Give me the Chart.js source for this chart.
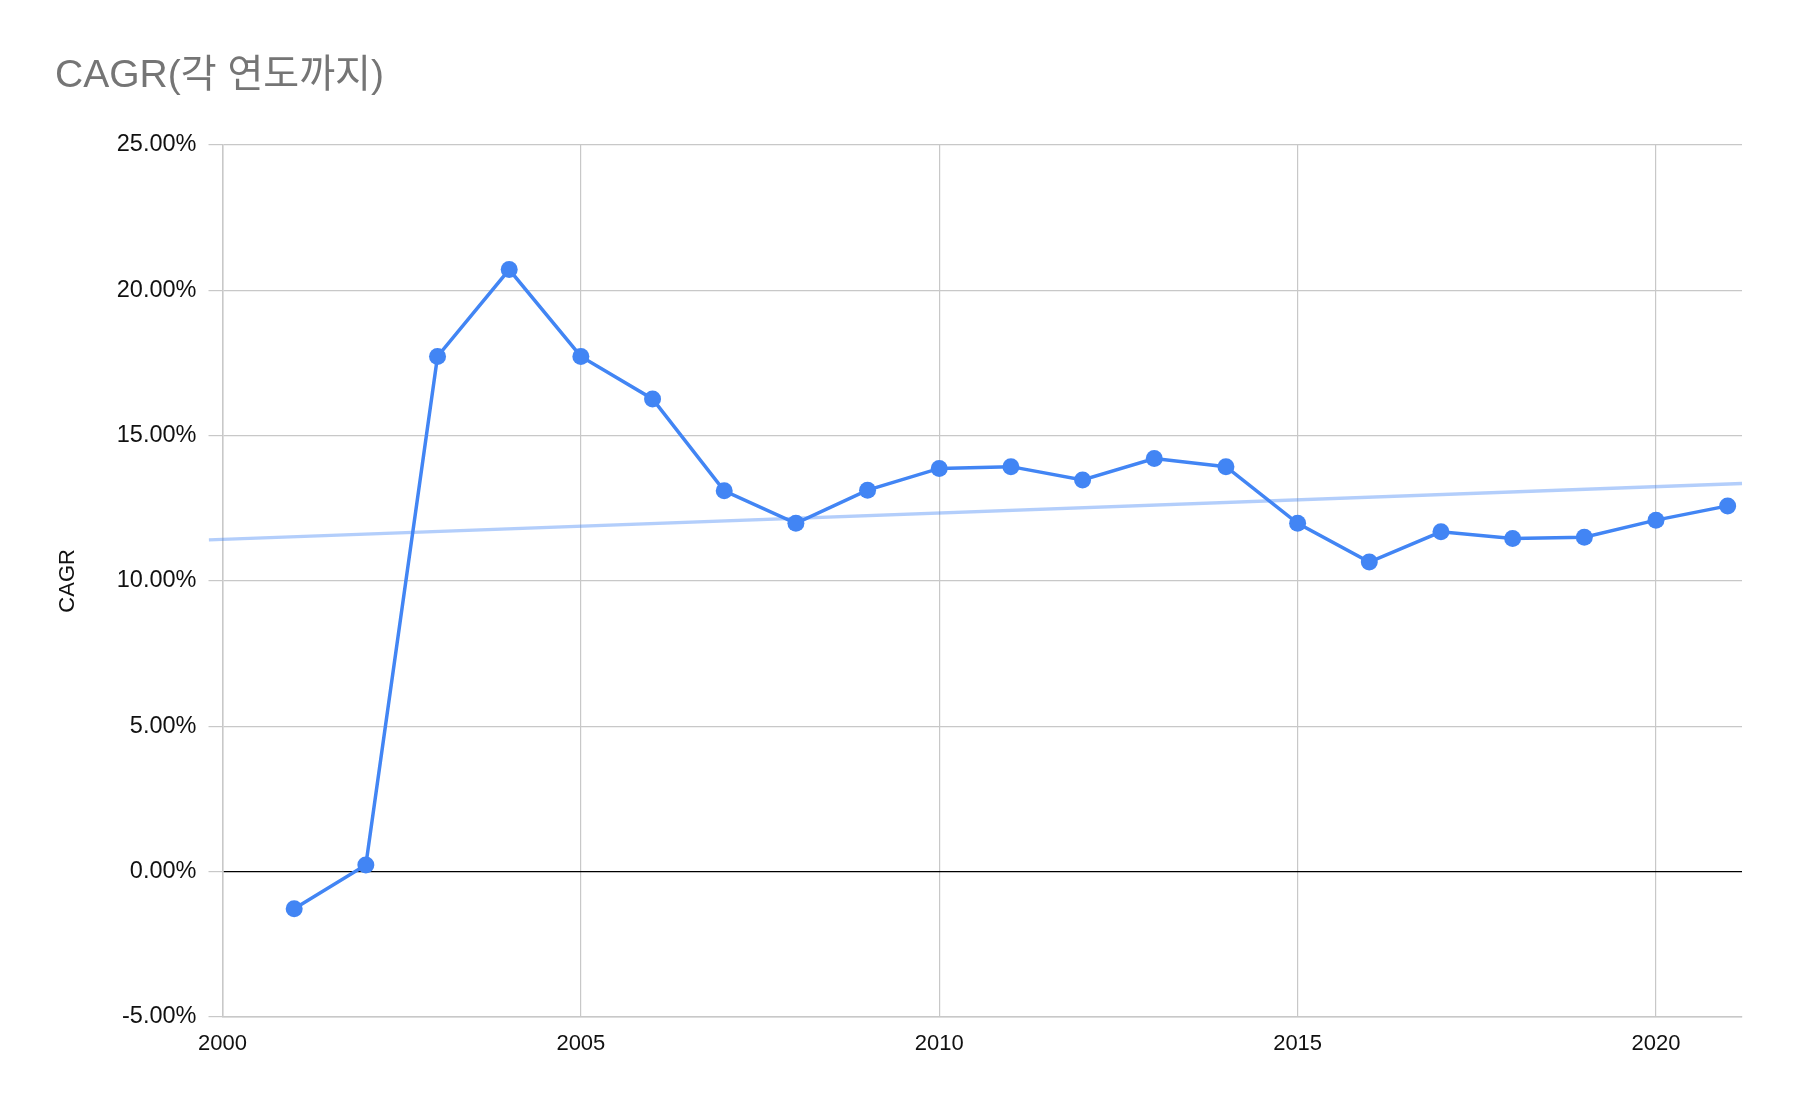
<!DOCTYPE html>
<html>
<head>
<meta charset="utf-8">
<title>CAGR</title>
<script src="https://cdn.jsdelivr.net/npm/chart.js@4/dist/chart.umd.min.js"></script>
<style>
    html, body { margin: 0; padding: 0; background: #fff; }
    #wrap { width: 1798px; height: 1110px; }
</style>
</head>
<body>
<div id="wrap"><canvas id="cagrChart" width="1798" height="1110"></canvas></div>
<script>
// Data
const years = [2001, 2002, 2003, 2004, 2005, 2006, 2007, 2008, 2009, 2010, 2011,
               2012, 2013, 2014, 2015, 2016, 2017, 2018, 2019, 2020, 2021];
const cagr = [-1.28, 0.23, 17.72, 20.71, 17.72, 16.26, 13.10, 11.98, 13.12, 13.87, 13.93,
              13.47, 14.21, 13.93, 11.98, 10.65, 11.69, 11.46, 11.50, 12.09, 12.58];
const yTicks = [-5, 0, 5, 10, 15, 20, 25];
const xTicks = [2000, 2005, 2010, 2015, 2020];
const xRange = [2000, 2021.2];

const FONT = "'Liberation Sans', Arial, 'Noto Sans CJK KR', sans-serif";

// linear trendline (least squares), drawn across the plot
function trendPoints(xs, ys, x0, x1) {
    const n = xs.length;
    const mx = xs.reduce((a, b) => a + b, 0) / n;
    const my = ys.reduce((a, b) => a + b, 0) / n;
    let sxy = 0, sxx = 0;
    for (let i = 0; i < n; i++) {
        sxy += (xs[i] - mx) * (ys[i] - my);
        sxx += (xs[i] - mx) * (xs[i] - mx);
    }
    const slope = sxy / sxx;
    return [x0, x1].map(x => ({ x: x, y: my + slope * (x - mx) }));
}

document.addEventListener('DOMContentLoaded', function() {
    const ctx = document.getElementById('cagrChart').getContext('2d');
    const points = years.map((y, i) => ({ x: y, y: cagr[i] }));

    new Chart(ctx, {
        type: 'line',
        data: {
            datasets: [{
                label: 'CAGR',
                data: points,
                borderColor: '#4285f4',
                backgroundColor: '#4285f4',
                borderWidth: 3.5,
                pointRadius: 8.5,
                pointHoverRadius: 8.5,
                pointBorderWidth: 0,
                tension: 0,
                order: 1
            }, {
                label: 'trend',
                data: trendPoints(years, cagr, xRange[0] - 0.19, xRange[1]),
                borderColor: 'rgba(66, 133, 244, 0.4)',
                borderWidth: 3.5,
                pointRadius: 0,
                clip: false,
                order: 2
            }]
        },
        options: {
            responsive: false,
            animation: false,
            layout: { padding: { left: 55, right: 56, top: 0, bottom: 0 } },
            plugins: {
                legend: { display: false },
                tooltip: { enabled: false },
                title: {
                    display: true,
                    text: 'CAGR(각 연도까지)',
                    align: 'start',
                    color: '#757575',
                    font: { family: FONT, size: 39, weight: 'normal' },
                    padding: { top: 53, bottom: 45 }
                }
            },
            scales: {
                x: {
                    type: 'linear',
                    min: xRange[0],
                    max: xRange[1],
                    afterFit: function(scale) { scale.height = 93; },
                    afterBuildTicks: function(scale) {
                        scale.ticks = xTicks.map(v => ({ value: v }));
                    },
                    grid: {
                        color: '#c8c8c8',
                        lineWidth: 1.2,
                        drawTicks: false
                    },
                    border: { color: '#c8c8c8', width: 1.5 },
                    ticks: {
                        color: '#111',
                        padding: 14,
                        maxRotation: 0,
                        font: { family: FONT, size: 22 },
                        callback: function(value) { return String(value); }
                    }
                },
                y: {
                    type: 'linear',
                    min: yTicks[0],
                    max: yTicks[yTicks.length - 1],
                    afterFit: function(scale) { scale.width = 167.5; },
                    afterBuildTicks: function(scale) {
                        scale.ticks = yTicks.map(v => ({ value: v }));
                    },
                    grid: {
                        color: function(c) { return c.tick && c.tick.value === 0 ? '#000000' : '#c8c8c8'; },
                        lineWidth: function(c) { return c.tick && c.tick.value === 0 ? 1.2 : 1.2; },
                        tickLength: 14,
                        tickColor: '#c8c8c8'
                    },
                    border: { color: '#c8c8c8', width: 1.5 },
                    ticks: {
                        color: '#111',
                        padding: 12,
                        font: { family: FONT, size: 23.5 },
                        callback: function(value) { return value.toFixed(2) + '%'; }
                    },
                    title: {
                        display: true,
                        text: 'CAGR',
                        color: '#111',
                        padding: { top: 0, bottom: 0 },
                        font: { family: FONT, size: 22 }
                    }
                }
            }
        }
    });
});
</script>
</body>
</html>
